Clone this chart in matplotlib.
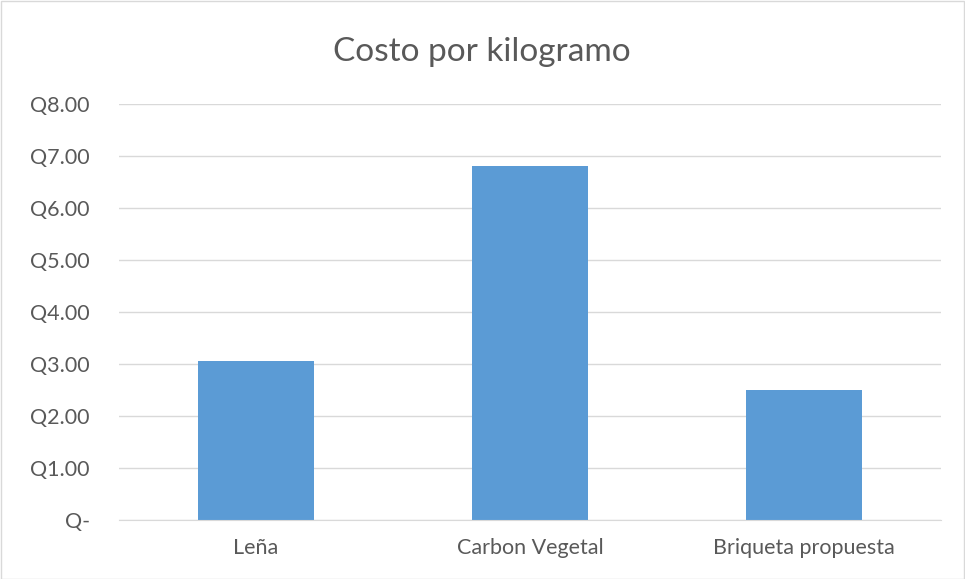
import matplotlib
matplotlib.use("Agg")
import matplotlib.pyplot as plt
from matplotlib.ticker import FuncFormatter
from matplotlib.patches import Rectangle

categories = ["Leña", "Carbon Vegetal", "Briqueta propuesta"]
values = [3.05, 6.80, 2.50]
yticks = [0, 1, 2, 3, 4, 5, 6, 7, 8]

plt.rcParams['font.family'] = ['Lato', 'DejaVu Sans']

fig = plt.figure(figsize=(9.65, 5.79), dpi=100)
ax = fig.add_axes([119/965, (579-520)/579, (941-119)/965, (520-104)/579])

x = list(range(len(categories)))
ax.bar(x, values, width=0.42, color="#5b9bd5", zorder=3)
ax.set_xlim(-0.5, len(categories) - 0.5)
ax.set_ylim(0, 8)
ax.set_yticks(yticks)

def fmt(v, pos):
    return "Q-" if v == 0 else f"Q{v:.2f}"

ax.yaxis.set_major_formatter(FuncFormatter(fmt))
ax.set_xticks(x)
ax.set_xticklabels(categories)
ax.grid(axis="y", color="#d9d9d9", linewidth=1, zorder=0)
for s in ["top", "right", "left"]:
    ax.spines[s].set_visible(False)
ax.spines["bottom"].set_color("#d9d9d9")
ax.spines["bottom"].set_zorder(4)
ax.tick_params(axis="both", length=0, labelsize=15.5, colors="#595959")
ax.tick_params(axis="y", pad=21)
ax.tick_params(axis="x", pad=13)

fig.text(482/965, 1 - 52/579, "Costo por kilogramo", ha="center", va="center",
         fontsize=24, color="#595959")

fig.patches.append(Rectangle((0.5/965, 0.5/579), 1 - 1.5/965, 1 - 1.5/579,
                             transform=fig.transFigure, fill=False,
                             edgecolor="#d9d9d9", linewidth=1))

fig.savefig("out.png", dpi=100)
